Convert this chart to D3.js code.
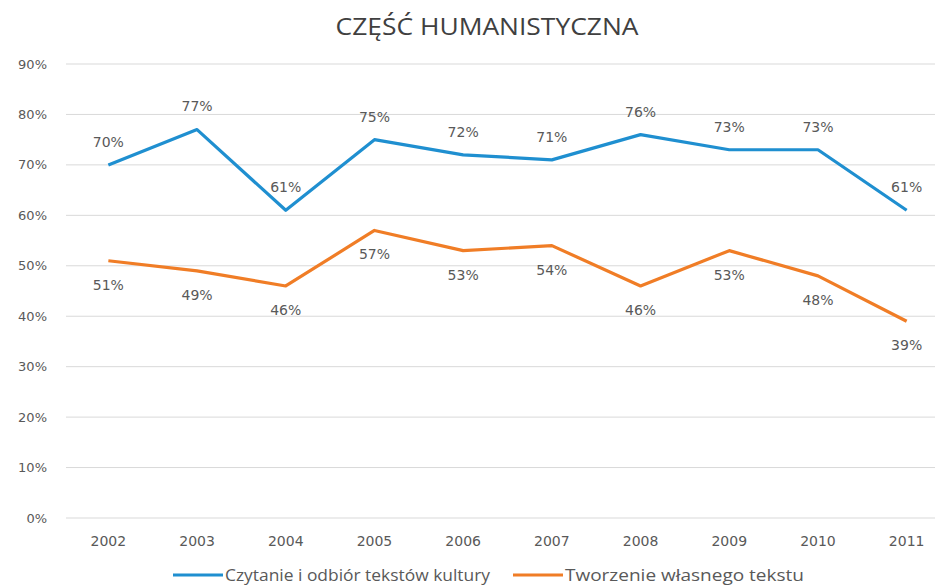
<!DOCTYPE html>
<meta charset="utf-8">
<title>Część humanistyczna</title>
<script src="https://d3js.org/d3.v7.min.js"></script>
<style>
  body { margin: 0; background: #fff; }
  svg text { fill: #595959; }
</style>
<body>
<div id="chart"></div>
<script>
  // data
  var years = ["2002","2003","2004","2005","2006","2007","2008","2009","2010","2011"];
  var czytanie = [70, 77, 61, 75, 72, 71, 76, 73, 73, 61];
  var tworzenie = [51, 49, 46, 57, 53, 54, 46, 53, 48, 39];
  var yTicks = [0, 10, 20, 30, 40, 50, 60, 70, 80, 90];
  var seriesNames = ["Czytanie i odbiór tekstów kultury", "Tworzenie własnego tekstu"];
  var seriesColors = ["#1f8fd0", "#f07d26"];

  var width = 935, height = 587;

  var svg = d3.select("#chart")
    .append("svg")
      .attr("width", width)
      .attr("height", height);

  var x = d3.scaleBand()
    .domain(years)
    .range([64, 951]);

  var y = d3.scaleLinear()
    .domain([0, 90])
    .range([518, 64]);

  var xc = function(d) { return x(d) + x.bandwidth() / 2; };

  // title
  svg.append("text")
    .attr("x", 487)
    .attr("y", 35)
    .attr("text-anchor", "middle")
    .attr("font-family", "Open Sans, sans-serif")
    .attr("font-size", "24px")
    .attr("textLength", 303)
    .attr("lengthAdjust", "spacingAndGlyphs")
    .style("fill", "#404040")
    .text("CZĘŚĆ HUMANISTYCZNA");

  // gridlines
  svg.append("g")
    .selectAll("line")
    .data(yTicks)
    .join("line")
      .attr("x1", 66)
      .attr("x2", width)
      .attr("y1", d => y(d))
      .attr("y2", d => y(d))
      .attr("stroke", "#d9d9d9")
      .attr("stroke-width", 1);

  // y labels
  svg.append("g")
    .selectAll("text")
    .data(yTicks)
    .join("text")
      .attr("x", 47)
      .attr("y", d => y(d))
      .attr("dy", "0.35em")
      .attr("text-anchor", "end")
      .attr("font-family", "DejaVu Sans, sans-serif")
      .attr("font-size", "13px")
      .text(d => d + "%");

  // x labels
  svg.append("g")
    .selectAll("text")
    .data(years)
    .join("text")
      .attr("x", d => xc(d))
      .attr("y", 541)
      .attr("dy", "0.35em")
      .attr("text-anchor", "middle")
      .attr("font-family", "DejaVu Sans, sans-serif")
      .attr("font-size", "14px")
      .text(d => d);

  var line = d3.line()
    .x((d, i) => xc(years[i]))
    .y(d => y(d));

  var series = [czytanie, tworzenie];
  var labelOffset = [-23, 24];

  series.forEach(function(vals, s) {
    svg.append("path")
      .datum(vals)
      .attr("d", line)
      .attr("fill", "none")
      .attr("stroke", seriesColors[s])
      .attr("stroke-width", 3.2)
      .attr("stroke-linejoin", "round");

    svg.append("g")
      .selectAll("text")
      .data(vals)
      .join("text")
        .attr("x", (d, i) => xc(years[i]))
        .attr("y", d => y(d) + labelOffset[s])
        .attr("dy", "0.35em")
        .attr("text-anchor", "middle")
        .attr("font-family", "DejaVu Sans, sans-serif")
        .attr("font-size", "14px")
        .text(d => d + "%");
  });

  // legend
  var legendX = [173, 513];
  var legendLen = [265, 239];
  var legend = svg.append("g")
    .selectAll("g")
    .data(seriesNames)
    .join("g")
      .attr("transform", (d, i) => "translate(" + legendX[i] + ",575)");

  legend.append("line")
    .attr("x1", 0)
    .attr("x2", 50)
    .attr("stroke", (d, i) => seriesColors[i])
    .attr("stroke-width", 3.2);

  legend.append("text")
    .attr("x", 52)
    .attr("dy", "0.35em")
    .attr("font-family", "Open Sans, sans-serif")
    .attr("font-size", "16px")
    .attr("textLength", (d, i) => legendLen[i])
    .attr("lengthAdjust", "spacingAndGlyphs")
    .text(d => d);
</script>
</body>
